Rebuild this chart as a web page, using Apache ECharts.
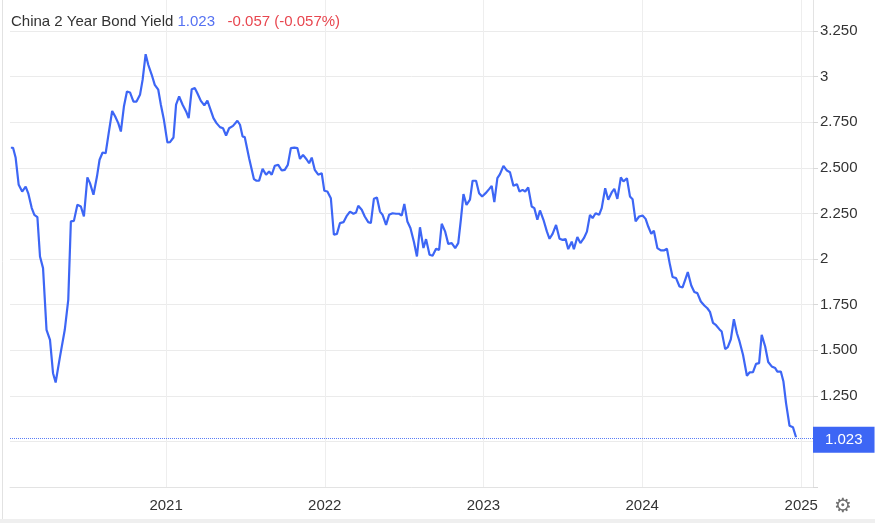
<!DOCTYPE html>
<html>
<head>
<meta charset="utf-8">
<script src="https://cdn.jsdelivr.net/npm/echarts@6/dist/echarts.min.js"></script>
<style>
html,body{margin:0;padding:0;background:#fff;}
#chart{width:875px;height:523px;}
</style>
</head>
<body>
<div id="chart"></div>
<script>
// ---- data ----
var titleName = 'China 2 Year Bond Yield';
var lastValue = 1.023;
var changeText = '-0.057 (-0.057%)';

var yield2020 = [
['2020-01-10',2.61],['2020-01-15',2.61],['2020-01-21',2.555],['2020-01-28',2.407],['2020-02-05',2.37],['2020-02-13',2.397],['2020-02-19',2.36],['2020-02-27',2.279],['2020-03-04',2.242],['2020-03-11',2.23],['2020-03-17',2.014],['2020-03-24',1.95],['2020-04-01',1.612],['2020-04-09',1.557],['2020-04-16',1.374],['2020-04-22',1.323],['2020-05-02',1.465],['2020-05-13',1.612],['2020-05-21',1.776],['2020-05-27',2.206],['2020-06-03',2.209],['2020-06-11',2.297],['2020-06-19',2.288],['2020-06-26',2.233],['2020-07-04',2.447],['2020-07-10',2.416],['2020-07-18',2.352],['2020-07-26',2.452],['2020-08-01',2.544],['2020-08-08',2.584],['2020-08-15',2.58],['2020-08-22',2.69],['2020-08-30',2.812],['2020-09-06',2.781],['2020-09-13',2.745],['2020-09-19',2.699],['2020-09-26',2.836],['2020-10-03',2.918],['2020-10-10',2.913],['2020-10-18',2.863],['2020-10-25',2.863],['2020-11-02',2.9],['2020-11-08',2.982],['2020-11-15',3.123],['2020-11-21',3.065],['2020-11-29',3.01],['2020-12-06',2.955],['2020-12-14',2.928],['2020-12-20',2.846],['2020-12-27',2.763]
];
var yield2021 = [
['2021-01-04',2.639],['2021-01-10',2.641],['2021-01-18',2.666],['2021-01-24',2.846],['2021-01-31',2.891],['2021-02-08',2.846],['2021-02-16',2.809],['2021-02-22',2.772],['2021-03-01',2.931],['2021-03-08',2.937],['2021-03-14',2.909],['2021-03-22',2.867],['2021-03-30',2.842],['2021-04-06',2.869],['2021-04-12',2.827],['2021-04-20',2.772],['2021-04-27',2.745],['2021-05-05',2.723],['2021-05-12',2.717],['2021-05-19',2.677],['2021-05-26',2.717],['2021-06-04',2.73],['2021-06-14',2.758],['2021-06-20',2.736],['2021-06-26',2.672],['2021-07-01',2.668],['2021-07-11',2.552],['2021-07-22',2.438],['2021-07-28',2.429],['2021-08-03',2.43],['2021-08-11',2.494],['2021-08-19',2.462],['2021-08-26',2.48],['2021-09-01',2.462],['2021-09-08',2.511],['2021-09-16',2.516],['2021-09-24',2.485],['2021-10-01',2.489],['2021-10-08',2.516],['2021-10-15',2.608],['2021-10-23',2.611],['2021-10-30',2.608],['2021-11-05',2.549],['2021-11-12',2.571],['2021-11-20',2.547],['2021-11-26',2.525],['2021-12-02',2.556],['2021-12-09',2.489],['2021-12-17',2.462],['2021-12-25',2.47],['2021-12-31',2.374]
];
var yield2022 = [
['2022-01-07',2.37],['2022-01-15',2.333],['2022-01-22',2.133],['2022-01-29',2.138],['2022-02-05',2.197],['2022-02-13',2.202],['2022-02-21',2.238],['2022-02-28',2.26],['2022-03-08',2.248],['2022-03-14',2.255],['2022-03-19',2.292],['2022-03-27',2.27],['2022-04-03',2.233],['2022-04-11',2.202],['2022-04-17',2.197],['2022-04-24',2.33],['2022-05-01',2.337],['2022-05-08',2.26],['2022-05-14',2.242],['2022-05-22',2.187],['2022-05-29',2.242],['2022-06-06',2.251],['2022-06-14',2.248],['2022-06-21',2.248],['2022-06-27',2.238],['2022-07-03',2.302],['2022-07-10',2.206],['2022-07-17',2.17],['2022-07-25',2.095],['2022-08-01',2.014],['2022-08-08',2.174],['2022-08-16',2.06],['2022-08-22',2.109],['2022-08-30',2.023],['2022-09-06',2.018],['2022-09-14',2.056],['2022-09-21',2.05],['2022-09-27',2.193],['2022-10-05',2.15],['2022-10-12',2.083],['2022-10-20',2.087],['2022-10-28',2.06],['2022-11-04',2.087],['2022-11-10',2.215],['2022-11-16',2.356],['2022-11-23',2.297],['2022-12-01',2.325],['2022-12-07',2.429],['2022-12-15',2.429],['2022-12-22',2.361],['2022-12-29',2.343]
];
var yield2023 = [
['2023-01-06',2.361],['2023-01-14',2.383],['2023-01-20',2.401],['2023-01-26',2.312],['2023-02-02',2.443],['2023-02-08',2.465],['2023-02-16',2.511],['2023-02-24',2.485],['2023-03-03',2.476],['2023-03-11',2.401],['2023-03-19',2.41],['2023-03-25',2.37],['2023-04-01',2.379],['2023-04-07',2.37],['2023-04-14',2.392],['2023-04-22',2.288],['2023-04-28',2.279],['2023-05-05',2.215],['2023-05-11',2.266],['2023-05-19',2.215],['2023-05-27',2.15],['2023-06-02',2.111],['2023-06-09',2.138],['2023-06-17',2.187],['2023-06-25',2.111],['2023-07-02',2.105],['2023-07-09',2.109],['2023-07-15',2.054],['2023-07-23',2.095],['2023-07-28',2.054],['2023-08-05',2.121],['2023-08-12',2.087],['2023-08-20',2.114],['2023-08-27',2.15],['2023-09-03',2.242],['2023-09-09',2.224],['2023-09-16',2.251],['2023-09-24',2.242],['2023-09-30',2.279],['2023-10-08',2.388],['2023-10-15',2.325],['2023-10-23',2.365],['2023-10-29',2.385],['2023-11-05',2.33],['2023-11-13',2.447],['2023-11-19',2.425],['2023-11-27',2.443],['2023-12-04',2.343],['2023-12-10',2.328],['2023-12-17',2.206],['2023-12-25',2.233]
];
var yield2024 = [
['2024-01-02',2.238],['2024-01-09',2.22],['2024-01-15',2.178],['2024-01-22',2.138],['2024-01-28',2.155],['2024-02-05',2.06],['2024-02-13',2.047],['2024-02-20',2.047],['2024-02-27',2.056],['2024-03-05',1.968],['2024-03-11',1.901],['2024-03-19',1.895],['2024-03-27',1.849],['2024-04-03',1.844],['2024-04-09',1.886],['2024-04-15',1.928],['2024-04-23',1.855],['2024-04-30',1.819],['2024-05-07',1.813],['2024-05-15',1.767],['2024-05-23',1.745],['2024-05-30',1.73],['2024-06-05',1.71],['2024-06-12',1.65],['2024-06-19',1.637],['2024-06-27',1.614],['2024-07-02',1.602],['2024-07-10',1.506],['2024-07-16',1.517],['2024-07-23',1.56],['2024-07-30',1.67],['2024-08-06',1.593],['2024-08-12',1.548],['2024-08-20',1.475],['2024-08-29',1.36],['2024-09-04',1.378],['2024-09-12',1.38],['2024-09-19',1.425],['2024-09-26',1.429],['2024-10-02',1.584],['2024-10-10',1.52],['2024-10-17',1.435],['2024-10-25',1.411],['2024-11-02',1.402],['2024-11-07',1.383],['2024-11-15',1.383],['2024-11-21',1.328],['2024-11-27',1.21],['2024-12-05',1.086],['2024-12-13',1.077],['2024-12-20',1.023]
];

var xRangeDates = ['2020-01-08','2025-01-28'];
var xTickDates = ['2021-01-01','2022-01-01','2023-01-01','2024-01-01','2025-01-01'];
var xTickLabels = ['2021','2022','2023','2024','2025'];
var yTickValues = [1.25,1.5,1.75,2,2.25,2.5,2.75,3,3.25];
var yTickLabels = ['1.250','1.500','1.750','2','2.250','2.500','2.750','3','3.250'];

// ---- chart ----
function ts(d){ return Date.UTC(+d.slice(0,4), +d.slice(5,7)-1, +d.slice(8,10)); }
var seriesData = [].concat(yield2020, yield2021, yield2022, yield2023, yield2024)
  .map(function(p){ return [ts(p[0]), p[1]]; });
var BLUE = '#3d66f5';
var FONT = '"Liberation Sans", Arial, sans-serif';
var xTickTimes = xTickDates.map(ts);

var chart = echarts.init(document.getElementById('chart'), null, {renderer:'canvas'});
chart.setOption({
  animation:false,
  backgroundColor:'#fff',
  title:{
    left:6, top:9,
    text:'{a|' + titleName + '} {b|' + lastValue.toFixed(3) + '}   {c|' + changeText + '}',
    textStyle:{
      fontFamily:FONT, fontSize:15, fontWeight:'normal',
      rich:{
        a:{color:'#333', fontSize:15, fontFamily:FONT},
        b:{color:'#5571f2', fontSize:15, fontFamily:FONT},
        c:{color:'#e8464f', fontSize:15, fontFamily:FONT}
      }
    }
  },
  grid:{left:10, right:62, top:0, bottom:36, containLabel:false},
  xAxis:{
    type:'value',
    min:ts(xRangeDates[0]), max:ts(xRangeDates[1]),
    axisLine:{show:true, onZero:false, lineStyle:{color:'#e3e3e3', width:1}},
    axisTick:{show:false, customValues:xTickTimes},
    splitLine:{show:true, lineStyle:{color:'#eeeeee', width:1}},
    axisLabel:{
      customValues:xTickTimes,
      color:'#333', fontSize:15, fontFamily:FONT, margin:11,
      formatter:function(v){
        var i = xTickTimes.indexOf(+v);
        return i >= 0 ? xTickLabels[i] : '';
      }
    }
  },
  yAxis:{
    type:'value', position:'right',
    min:0.75, max:3.42, interval:0.25,
    axisLine:{show:true, lineStyle:{color:'#e3e3e3'}},
    axisTick:{show:true, length:5, lineStyle:{color:'#d8d8d8'}},
    splitLine:{show:true, showMaxLine:false, lineStyle:{color:'#ebebeb', width:1}},
    axisLabel:{
      color:'#333', fontSize:15, fontFamily:FONT, margin:7,
      showMaxLabel:false,
      formatter:function(v){
        for (var i=0;i<yTickValues.length;i++){
          if (Math.abs(yTickValues[i]-v) < 1e-6) return yTickLabels[i];
        }
        return '';
      }
    }
  },
  series:[{
    type:'line',
    data:seriesData,
    showSymbol:false,
    symbol:'none',
    lineStyle:{color:BLUE, width:2.2},
    itemStyle:{color:BLUE},
    markLine:{
      silent:true,
      symbol:['none','none'],
      lineStyle:{color:'rgba(61,102,245,0.85)', type:'dotted', width:1, opacity:1},
      label:{
        show:true, position:'end', distance:0,
        formatter:function(){ return lastValue.toFixed(3); },
        backgroundColor:BLUE, color:'#fff', opacity:1,
        fontFamily:FONT, fontSize:15,
        padding:[6,12,5,12], borderRadius:0,
        offset:[0,2]
      },
      data:[{yAxis:lastValue}]
    }
  }],
  graphic:[
    {type:'line', shape:{x1:2.5,y1:0,x2:2.5,y2:523}, style:{stroke:'#e2e2e2', lineWidth:1}, silent:true},
    {type:'rect', shape:{x:0,y:519,width:875,height:4}, style:{fill:'#efefef'}, silent:true},
    {type:'text', x:843, y:507, style:{text:'\u2699', fontSize:20, fontFamily:'"DejaVu Sans", sans-serif', fill:'#6f6f6f', align:'center', verticalAlign:'middle'}, silent:true}
  ]
});
</script>
</body>
</html>
